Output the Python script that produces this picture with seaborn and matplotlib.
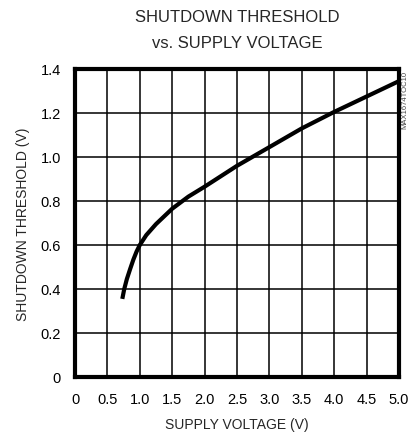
import numpy as np
import pandas as pd
import matplotlib
matplotlib.use("Agg")
import matplotlib.pyplot as plt
import seaborn as sns

# values
supply_v = [0.73, 0.76, 0.8, 0.85, 0.9, 0.95, 1.0, 1.1, 1.25, 1.5, 1.75, 2.0,
            2.5, 3.0, 3.5, 4.0, 4.5, 5.0]
threshold_v = [0.355, 0.40, 0.445, 0.49, 0.533, 0.57, 0.60, 0.645, 0.695, 0.765,
               0.82, 0.865, 0.96, 1.045, 1.13, 1.205, 1.275, 1.345]

x_ticks = [0, 0.5, 1.0, 1.5, 2.0, 2.5, 3.0, 3.5, 4.0, 4.5, 5.0]
x_labels = ["0", "0.5", "1.0", "1.5", "2.0", "2.5", "3.0", "3.5", "4.0", "4.5", "5.0"]
y_ticks = [0, 0.2, 0.4, 0.6, 0.8, 1.0, 1.2, 1.4]
y_labels = ["0", "0.2", "0.4", "0.6", "0.8", "1.0", "1.2", "1.4"]

sns.set_style("white")
plt.rcParams["font.family"] = ["Liberation Sans", "DejaVu Sans"]

df = pd.DataFrame({"supply": supply_v, "threshold": threshold_v})

fig = plt.figure(figsize=(4.11, 4.35), dpi=100)
ax = fig.add_axes([75 / 411, 57 / 435, 324 / 411, 308 / 435])

sns.lineplot(data=df, x="supply", y="threshold", ax=ax, color="black",
             linewidth=3, solid_capstyle="butt")

ax.set_xlim(0, 5)
ax.set_ylim(0, 1.4)
ax.set_xticks(x_ticks)
ax.set_xticklabels(x_labels)
ax.set_yticks(y_ticks)
ax.set_yticklabels(y_labels)
ax.tick_params(length=0, labelsize=10.5, colors="black")
ax.tick_params(axis="x", pad=11)
ax.tick_params(axis="y", pad=10)
ax.grid(True, color="black", linewidth=1.1)
for s in ax.spines.values():
    s.set_visible(True)
    s.set_color("black")
    s.set_linewidth(3)

ax.set_xlabel("SUPPLY VOLTAGE (V)", fontsize=10, labelpad=8)
ax.set_ylabel("SHUTDOWN THRESHOLD (V)", fontsize=10, labelpad=8)
fig.text(237 / 411, 1 - 18 / 435, "SHUTDOWN THRESHOLD", ha="center", va="center", fontsize=12)
fig.text(237 / 411, 1 - 43 / 435, "vs. SUPPLY VOLTAGE", ha="center", va="center", fontsize=12)
fig.text(405 / 411, 1 - 100 / 435, "MAX1674TOC10", rotation=90, ha="center", va="center",
         fontsize=5.5, color="#444444")

fig.savefig("out.png", dpi=100)
